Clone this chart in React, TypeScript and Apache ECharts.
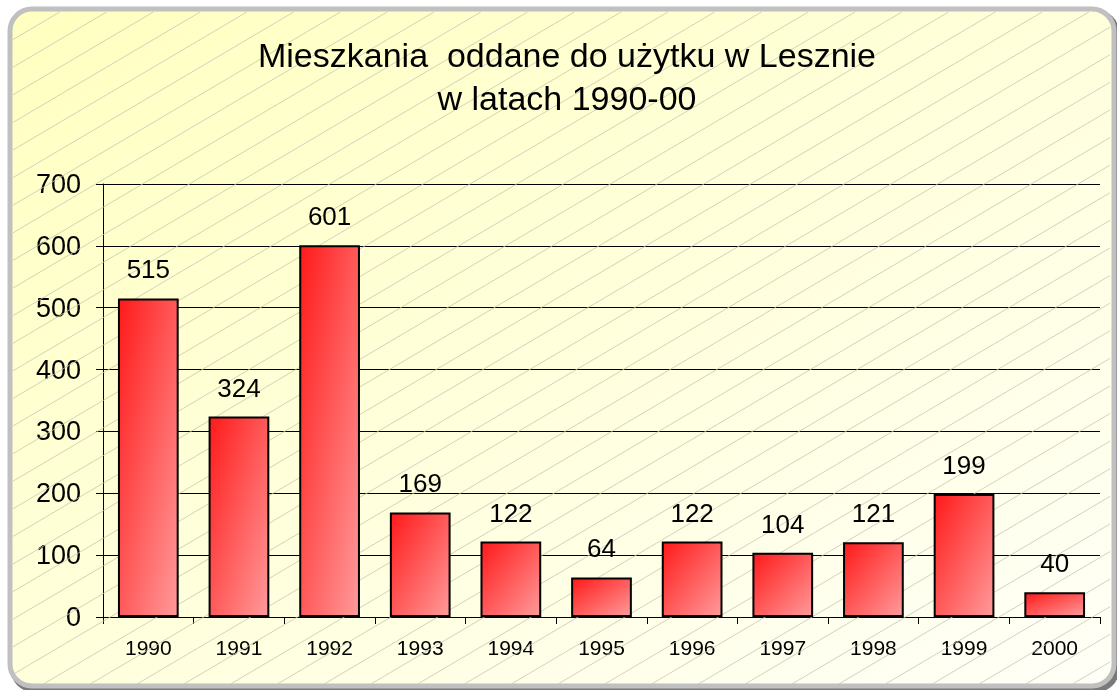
import React, { useEffect, useRef } from "react";
import * as echarts from "echarts";

const years = ["1990", "1991", "1992", "1993", "1994", "1995", "1996", "1997", "1998", "1999", "2000"];
const dwellings = [515, 324, 601, 169, 122, 64, 122, 104, 121, 199, 40];
const titleLines = ["Mieszkania  oddane do użytku w Lesznie", "w latach 1990-00"];

const W = 1117;
const H = 690;
const FONT = "Liberation Sans, Arial, sans-serif";

function hatchLines() {
  const els: any[] = [];
  const x0 = 13, y0 = 12, x1 = 1110, y1 = 684;
  const slope = 0.59;
  const spacing = 27.6;
  for (let c = y0; c < y1 + slope * (x1 - x0) + spacing; c += spacing) {
    let ax = x0, ay = c;
    if (ay > y1) { ax = x0 + (ay - y1) / slope; ay = y1; }
    let bx = x1, by = c - slope * (x1 - x0);
    if (by < y0) { bx = x0 + (c - y0) / slope; by = y0; }
    if (ax >= bx) continue;
    els.push({
      type: "line",
      silent: true,
      z: 1,
      shape: { x1: ax, y1: ay, x2: bx, y2: by },
      style: { stroke: "#c6c6b4", lineWidth: 0.8 },
    });
  }
  return els;
}

export default function App() {
  const ref = useRef<HTMLDivElement>(null);
  useEffect(() => {
    if (!ref.current) return;
    const chart = echarts.init(ref.current, null, { renderer: "svg" });
    chart.setOption({
      animation: false,
      graphic: [
        {
          type: "rect",
          z: 0,
          silent: true,
          shape: { x: 11, y: 10, width: 1108, height: 682, r: 22 },
          style: { fill: "#7a7a7a" },
        },
        {
          type: "rect",
          z: 0,
          silent: true,
          shape: { x: 10, y: 9, width: 1104, height: 677, r: 22 },
          style: {
            fill: new echarts.graphic.LinearGradient(0, 0, 1, 1, [
              { offset: 0, color: "#ffffc0" },
              { offset: 1, color: "#fffff8" },
            ]),
            stroke: "#c0c0c0",
            lineWidth: 5,
          },
        },
        ...hatchLines(),
        {
          type: "text",
          z: 5,
          x: 567,
          y: 55,
          style: {
            text: titleLines[0],
            font: "34px " + FONT,
            fill: "#000",
            textAlign: "center",
            textVerticalAlign: "middle",
          },
        },
        {
          type: "text",
          z: 5,
          x: 567,
          y: 98,
          style: {
            text: titleLines[1],
            font: "34px " + FONT,
            fill: "#000",
            textAlign: "center",
            textVerticalAlign: "middle",
          },
        },
      ],
      grid: { left: 103, right: 17, top: 184, bottom: 73 },
      xAxis: {
        type: "category",
        data: years,
        axisLine: { show: true, lineStyle: { color: "#000", width: 1 } },
        axisTick: { show: true, inside: false, length: 7, alignWithLabel: false, lineStyle: { color: "#000" } },
        axisLabel: {
          color: "#000",
          fontSize: 21,
          fontFamily: FONT,
          margin: 20,
        },
      },
      yAxis: {
        type: "value",
        min: 0,
        max: 700,
        interval: 100,
        axisLine: { show: true, lineStyle: { color: "#000", width: 1 } },
        axisTick: { show: true, length: 7, lineStyle: { color: "#000" } },
        splitLine: { show: true, lineStyle: { color: "#000", width: 1 } },
        axisLabel: {
          color: "#000",
          fontSize: 27,
          fontFamily: FONT,
          margin: 22,
        },
      },
      series: [
        {
          type: "bar",
          data: dwellings,
          z: 3,
          barCategoryGap: "33%",
          itemStyle: {
            color: new echarts.graphic.LinearGradient(0, 0, 1, 1, [
              { offset: 0, color: "#ff1a1a" },
              { offset: 1, color: "#ff9a9a" },
            ]),
            borderColor: "#000",
            borderWidth: 2,
          },
          label: {
            show: true,
            position: "top",
            distance: 16,
            color: "#000",
            fontSize: 26,
            fontFamily: FONT,
          },
        },
      ],
    });
    return () => chart.dispose();
  }, []);
  return (
    <div
      ref={ref}
      style={{ position: "fixed", left: 0, top: 0, width: W, height: H }}
    />
  );
}
